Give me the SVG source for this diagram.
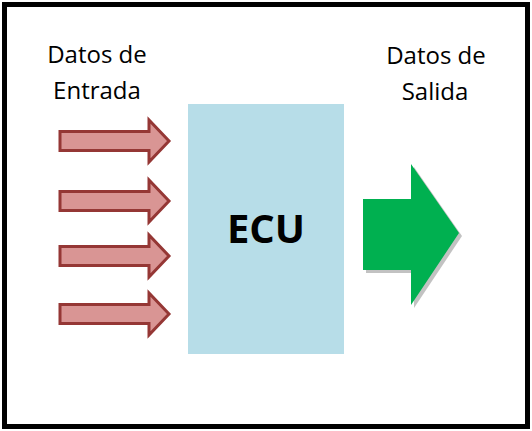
<svg xmlns="http://www.w3.org/2000/svg" width="532" height="431" viewBox="0 0 532 431">
<style>
.lbl{font-family:"Open Sans","Liberation Sans",Arial,sans-serif;font-size:24px;fill:#000;text-anchor:middle}
.in{fill:#d99594;stroke:#953735;stroke-width:3;stroke-linejoin:miter}
</style>
<defs>
<path id="inArrow" d="M0,-9.5 H89 V-21 L109,0 L89,21 V9.5 H0 Z"/>
</defs>
<rect x="0" y="0" width="532" height="431" fill="#fff"/>
<rect x="4.5" y="4.5" width="523" height="422" fill="none" stroke="#000" stroke-width="5"/>
<g id="label-entrada">
<text class="lbl" x="97" y="63">Datos de</text>
<text class="lbl" x="97" y="99">Entrada</text>
</g>
<g id="label-salida">
<text class="lbl" x="436" y="64">Datos de</text>
<text class="lbl" x="435" y="100">Salida</text>
</g>
<g id="connectors">
<use href="#inArrow" class="in" x="60" y="141"/>
<use href="#inArrow" class="in" x="60" y="201"/>
<use href="#inArrow" class="in" x="60" y="256"/>
<use href="#inArrow" class="in" x="60" y="314"/>
<path d="M366,202 H414 V167 L462,236 L414,308 V273 H366 Z" fill="#9a9a9a" opacity="0.6"/>
<path d="M363,199 H411 V164 L459,233 L411,305 V270 H363 Z" fill="#00b050"/>
</g>
<g id="ecu">
<rect x="188" y="104" width="156" height="250" fill="#b7dde8"/>
<text x="266" y="243" font-family="'Open Sans','Liberation Sans',Arial,sans-serif" font-size="40" font-weight="bold" text-anchor="middle">ECU</text>
</g>
</svg>
